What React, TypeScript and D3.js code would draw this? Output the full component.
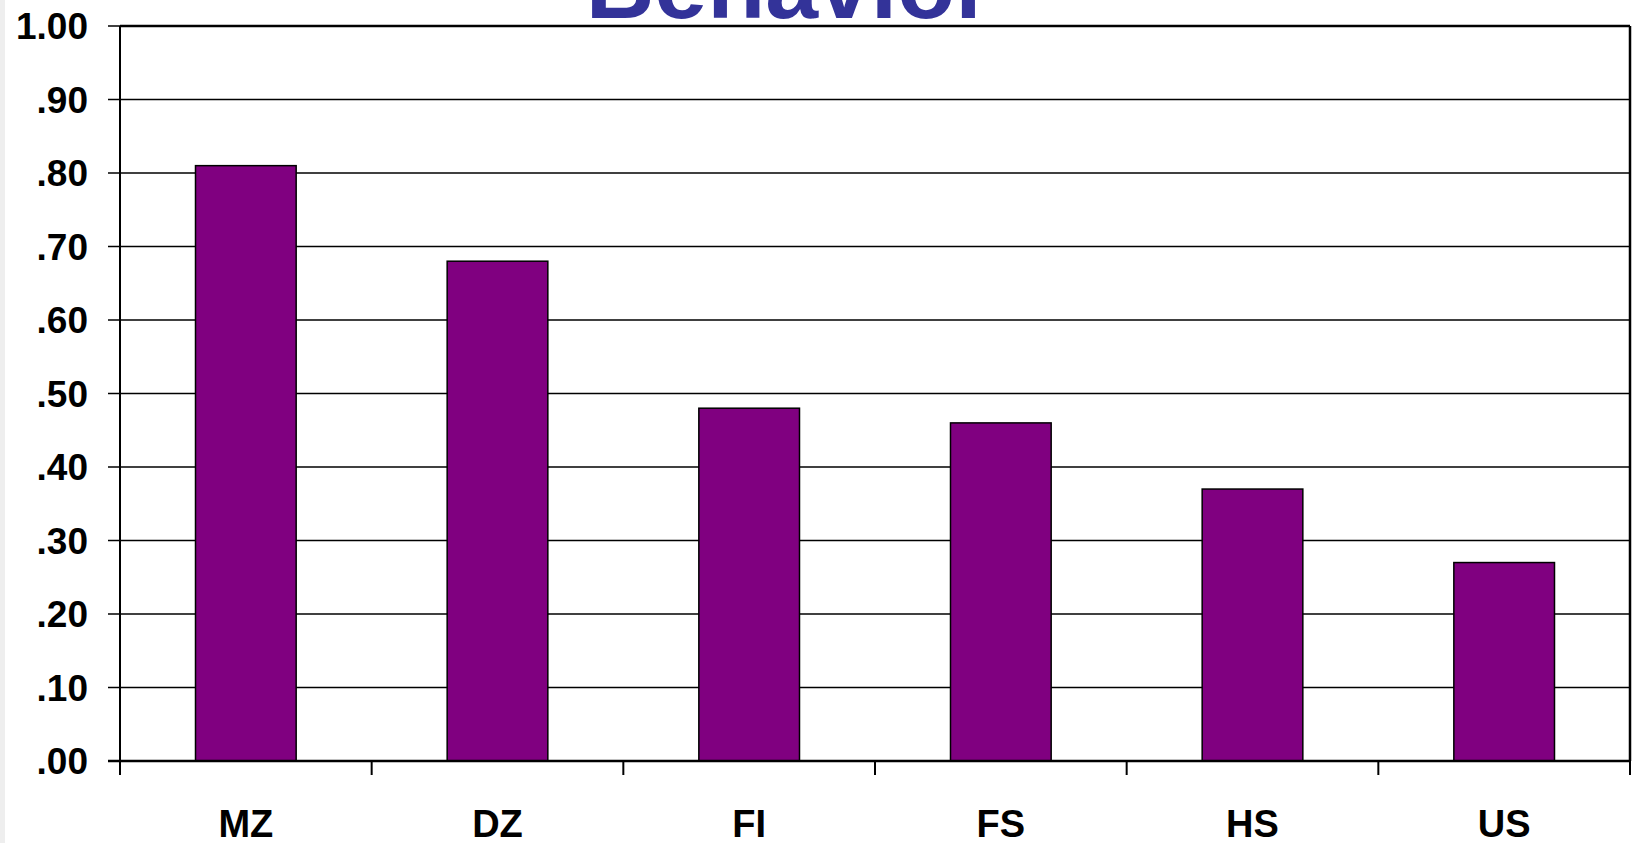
import * as d3 from 'd3';
import { useEffect, useRef } from 'react';

const categories = ['MZ', 'DZ', 'FI', 'FS', 'HS', 'US'];
const values = [0.81, 0.68, 0.48, 0.46, 0.37, 0.27];
const yTicks = [0, 0.1, 0.2, 0.3, 0.4, 0.5, 0.6, 0.7, 0.8, 0.9, 1.0];
const title = 'Behavior';

const W = 1632;
const H = 843;
const FONT = '"Liberation Sans", Arial, sans-serif';

const BarChart = () => {
    const svgRef = useRef<SVGSVGElement>(null);
    useEffect(() => {
        const svg = d3.select(svgRef.current);
        const margin = { left: 120, right: 2, top: 26, bottom: 82 };
        const x = d3.scaleBand<string>()
            .domain(categories)
            .range([margin.left, W - margin.right])
            .paddingInner(0.6)
            .paddingOuter(0.3);
        const band = d3.scaleBand<string>()
            .domain(categories)
            .range([margin.left, W - margin.right]);
        const y = d3.scaleLinear().domain([0, 1]).range([H - margin.bottom, margin.top]);

        // faint strip on the left edge
        svg.append('rect').attr('x', 0).attr('y', 0).attr('width', 5).attr('height', H).attr('fill', '#eeeeee');

        // title (cut off at the top)
        svg.append('text')
            .attr('x', 789)
            .attr('y', 18)
            .attr('text-anchor', 'middle')
            .attr('font-family', FONT)
            .attr('font-weight', 'bold')
            .attr('font-size', 95)
            .attr('fill', '#333399')
            .text(title);

        // gridlines
        svg.selectAll('line.grid')
            .data(yTicks)
            .enter()
            .append('line')
            .attr('class', 'grid')
            .attr('x1', margin.left - 12)
            .attr('x2', W - margin.right)
            .attr('y1', d => y(d))
            .attr('y2', d => y(d))
            .attr('stroke', '#000')
            .attr('stroke-width', 1.5);

        // plot border (top + right)
        svg.append('line')
            .attr('x1', margin.left).attr('x2', W - margin.right)
            .attr('y1', y(1)).attr('y2', y(1))
            .attr('stroke', '#000').attr('stroke-width', 2.5);
        svg.append('line')
            .attr('x1', W - margin.right).attr('x2', W - margin.right)
            .attr('y1', y(1)).attr('y2', y(0))
            .attr('stroke', '#000').attr('stroke-width', 2.5);

        // bars
        svg.selectAll('rect.bar')
            .data(values)
            .enter()
            .append('rect')
            .attr('class', 'bar')
            .attr('x', (d, i) => x(categories[i])!)
            .attr('y', d => y(d))
            .attr('width', x.bandwidth())
            .attr('height', d => y(0) - y(d))
            .attr('fill', '#800080')
            .attr('stroke', '#000')
            .attr('stroke-width', 1.5);

        // y axis line
        svg.append('line')
            .attr('x1', margin.left).attr('x2', margin.left)
            .attr('y1', y(1)).attr('y2', y(0))
            .attr('stroke', '#000').attr('stroke-width', 2);

        // x axis line and ticks
        svg.append('line')
            .attr('x1', margin.left - 12).attr('x2', W - margin.right)
            .attr('y1', y(0)).attr('y2', y(0))
            .attr('stroke', '#000').attr('stroke-width', 2.5);
        const bounds = categories.map(c => band(c)!).concat([W - margin.right]);
        svg.selectAll('line.xtick')
            .data(bounds)
            .enter()
            .append('line')
            .attr('class', 'xtick')
            .attr('x1', d => d).attr('x2', d => d)
            .attr('y1', y(0)).attr('y2', y(0) + 14)
            .attr('stroke', '#000').attr('stroke-width', 2);

        // y tick labels
        svg.selectAll('text.ylab')
            .data(yTicks)
            .enter()
            .append('text')
            .attr('class', 'ylab')
            .attr('x', 88)
            .attr('y', d => y(d) + 13)
            .attr('text-anchor', 'end')
            .attr('font-family', FONT)
            .attr('font-weight', 'bold')
            .attr('font-size', 37)
            .text(d => d === 1 ? '1.00' : d3.format('.2f')(d).replace(/^0/, ''));

        // x labels
        svg.selectAll('text.xlab')
            .data(categories)
            .enter()
            .append('text')
            .attr('class', 'xlab')
            .attr('x', d => band(d)! + band.bandwidth() / 2)
            .attr('y', 837)
            .attr('text-anchor', 'middle')
            .attr('font-family', FONT)
            .attr('font-weight', 'bold')
            .attr('font-size', 38)
            .text(d => d);

        return () => {
            svg.selectAll('*').remove();
        };
    }, []);

    return (
        <svg ref={svgRef} width={W} height={H}
            style={{ position: 'absolute', left: 0, top: 0, background: '#fff' }}></svg>
    );
};

export default function App() {
    return <BarChart />;
}
